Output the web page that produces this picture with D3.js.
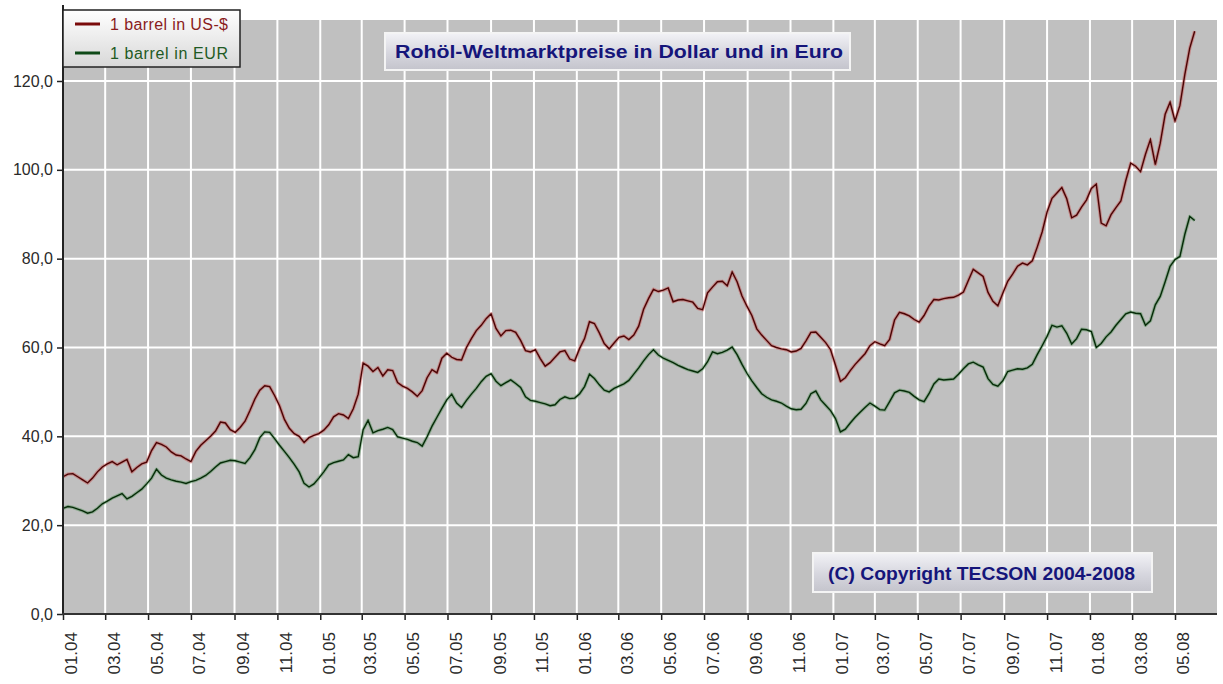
<!DOCTYPE html>
<html>
<head>
<meta charset="utf-8">
<script src="https://cdn.jsdelivr.net/npm/d3@7/dist/d3.min.js"></script>
<style>
  html, body { margin: 0; padding: 0; background: #ffffff; }
  svg { display: block; }
  text { font-family: "Liberation Sans", Arial, sans-serif; }
</style>
</head>
<body>
<svg id="chart" width="1223" height="684"></svg>
<script>
// ---- data (weekly readings, first week starting 01.01.2004) ----
const startDate = "2004-01-01";
const seriesNames = ["1 barrel in US-$", "1 barrel in EUR"];
const usd = [
30.9,31.5,31.6,30.9,30.2,29.5,30.6,32.0,33.1,33.8,
34.3,33.6,34.2,34.8,32.0,33.0,33.8,34.2,36.8,38.6,
38.2,37.6,36.5,35.8,35.6,34.9,34.3,36.6,38.0,39.0,
40.0,41.2,43.2,43.0,41.5,40.9,42.0,43.4,45.8,48.4,
50.4,51.4,51.2,49.2,46.9,43.8,41.8,40.6,40.0,38.6,
39.7,40.2,40.6,41.4,42.6,44.4,45.1,44.8,44.0,46.2,
49.5,56.5,55.8,54.6,55.5,53.6,55.0,54.8,52.1,51.3,
50.8,50.0,49.0,50.3,53.2,55.0,54.3,57.6,58.7,57.8,
57.3,57.2,60.0,62.0,63.8,65.0,66.5,67.6,64.3,62.6,
63.8,63.9,63.4,61.6,59.3,59.0,59.5,57.5,55.8,56.6,
57.8,59.0,59.3,57.4,57.0,59.8,62.0,65.8,65.4,63.3,
60.9,59.7,61.0,62.3,62.6,61.8,62.8,64.8,68.6,71.0,
73.1,72.6,72.9,73.4,70.3,70.7,70.8,70.5,70.2,68.8,
68.5,72.3,73.6,74.8,74.9,73.9,77.0,74.8,71.6,69.3,
67.2,64.2,62.8,61.6,60.4,60.0,59.7,59.5,59.0,59.2,
59.8,61.5,63.4,63.5,62.3,61.1,59.5,56.0,52.4,53.2,
54.8,56.2,57.4,58.6,60.4,61.3,60.8,60.4,61.8,66.2,
67.9,67.6,67.1,66.3,65.7,67.2,69.3,70.8,70.7,71.0,
71.2,71.3,71.8,72.5,75.1,77.6,76.8,76.0,72.4,70.4,
69.4,72.2,74.9,76.5,78.3,79.0,78.6,79.5,82.6,86.0,
90.5,93.6,94.8,96.0,93.5,89.2,89.8,91.6,93.2,95.8,
96.8,88.0,87.4,89.9,91.5,93.0,97.6,101.5,100.8,99.6,
103.5,106.8,101.2,106.0,112.5,115.2,111.0,114.5,121.5,127.4,
131.2
];
const eur = [
23.8,24.2,24.0,23.6,23.2,22.7,23.0,23.8,24.8,25.4,
26.1,26.6,27.1,25.9,26.5,27.3,28.1,29.3,30.6,32.6,
31.3,30.6,30.2,29.9,29.7,29.4,29.8,30.1,30.6,31.2,
32.1,33.1,34.0,34.3,34.6,34.5,34.2,33.9,35.2,37.0,
39.7,41.0,40.9,39.5,38.0,36.6,35.2,33.7,32.0,29.4,
28.6,29.3,30.6,32.0,33.6,34.1,34.4,34.7,35.9,35.2,
35.4,41.5,43.6,40.8,41.3,41.6,42.0,41.5,39.9,39.6,
39.3,38.9,38.6,37.8,39.9,42.3,44.3,46.3,48.2,49.5,
47.5,46.5,48.1,49.5,50.8,52.3,53.5,54.1,52.4,51.4,
52.1,52.7,51.9,51.0,48.9,48.1,47.9,47.6,47.3,46.9,
47.1,48.3,48.9,48.5,48.6,49.6,51.2,54.0,53.0,51.6,
50.4,50.0,50.8,51.3,51.8,52.6,54.0,55.4,57.0,58.4,
59.5,58.3,57.6,57.1,56.6,56.0,55.5,55.0,54.7,54.4,
55.2,56.8,59.0,58.6,58.9,59.4,60.1,58.4,56.2,54.2,
52.5,51.0,49.6,48.8,48.2,47.9,47.5,46.8,46.2,46.0,
46.1,47.4,49.6,50.2,48.2,47.0,45.8,44.0,41.0,41.6,
43.0,44.3,45.4,46.5,47.5,46.8,46.0,45.9,47.8,49.8,
50.4,50.2,49.9,49.0,48.2,47.8,49.6,51.8,52.9,52.7,
52.8,52.9,54.0,55.2,56.3,56.7,56.1,55.6,53.0,51.7,
51.3,52.5,54.6,54.9,55.2,55.1,55.4,56.2,58.4,60.4,
62.5,65.0,64.6,64.9,63.2,60.8,62.0,64.1,64.0,63.6,
60.0,60.9,62.4,63.5,65.0,66.3,67.6,68.0,67.7,67.6,
65.0,66.0,69.6,71.5,74.8,78.3,79.8,80.5,85.5,89.5,
88.6
];
const xTickLabels = [
"01.04","03.04","05.04","07.04","09.04","11.04",
"01.05","03.05","05.05","07.05","09.05","11.05",
"01.06","03.06","05.06","07.06","09.06","11.06",
"01.07","03.07","05.07","07.07","09.07","11.07",
"01.08","03.08","05.08"
];
const yTicks = [0, 20, 40, 60, 80, 100, 120];
const titleText = "Rohöl-Weltmarktpreise in Dollar und in Euro";
const copyrightText = "(C) Copyright TECSON  2004-2008";
const colors = ["#4a0404", "#062a08"];
const halo = ["#c83a3a", "#3f8a47"];
const legendColors = ["#7a0a0a", "#0f4a18"];
const legendTextColors = ["#8a1c1c", "#1f5a24"];

// ---- layout ----
const svg = d3.select("#chart");
const plot = { left: 63, right: 1217, top: 20, bottom: 614 };

const parseTick = s => new Date(2000 + +s.slice(3), +s.slice(0, 2) - 1, 1);
const tickDates = xTickLabels.map(parseTick);
const start = d3.timeParse("%Y-%m-%d")(startDate);
const dates = usd.map((_, i) => d3.timeDay.offset(start, 7 * i));

const x = d3.scaleTime()
  .domain([new Date(2004, 0, 1), new Date(2008, 4, 1)])
  .range([63, 1175]);
const y = d3.scaleLinear().domain([0, 120]).range([614, 81]);

// defs: gradients
const defs = svg.append("defs");
const g1 = defs.append("linearGradient").attr("id", "legGrad").attr("x1", 0).attr("y1", 0).attr("x2", 0).attr("y2", 1);
g1.append("stop").attr("offset", "0%").attr("stop-color", "#ffffff");
g1.append("stop").attr("offset", "100%").attr("stop-color", "#d8d8d8");
const g2 = defs.append("linearGradient").attr("id", "boxGrad").attr("x1", 0).attr("y1", 0).attr("x2", 0).attr("y2", 1);
g2.append("stop").attr("offset", "0%").attr("stop-color", "#f2f2f6");
g2.append("stop").attr("offset", "55%").attr("stop-color", "#d6d6de");
g2.append("stop").attr("offset", "100%").attr("stop-color", "#c4c4cc");

// plot background
svg.append("rect")
  .attr("x", plot.left).attr("y", plot.top)
  .attr("width", plot.right - plot.left).attr("height", plot.bottom - plot.top)
  .attr("fill", "#c0c0c0");

// grid
svg.append("g").selectAll("line").data(tickDates.slice(1)).join("line")
  .attr("x1", d => x(d)).attr("x2", d => x(d))
  .attr("y1", plot.top).attr("y2", plot.bottom)
  .attr("stroke", "#ffffff").attr("stroke-width", 2);
svg.append("g").selectAll("line").data(yTicks.slice(1)).join("line")
  .attr("x1", plot.left).attr("x2", plot.right)
  .attr("y1", d => y(d)).attr("y2", d => y(d))
  .attr("stroke", "#ffffff").attr("stroke-width", 2);

// lines
const seriesList = [usd, eur];
const lineGen = d3.line().x((d, i) => x(dates[i])).y(d => y(d)).curve(d3.curveLinear);
seriesList.forEach((s, k) => {
  svg.append("path").datum(s).attr("d", lineGen)
    .attr("fill", "none").attr("stroke", halo[k]).attr("stroke-width", 3.4)
    .attr("stroke-opacity", 0.4).attr("stroke-linejoin", "round");
  svg.append("path").datum(s).attr("d", lineGen)
    .attr("fill", "none").attr("stroke", colors[k]).attr("stroke-width", 1.4)
    .attr("stroke-linejoin", "miter");
});

// y axis
const yAxis = d3.axisLeft(y).tickValues(yTicks).tickSize(6).tickPadding(4)
  .tickFormat(d => d3.format(".1f")(d).replace(".", ","));
const yg = svg.append("g").attr("transform", `translate(${plot.left},0)`).call(yAxis);
yg.select(".domain").remove();
yg.selectAll(".tick line").attr("stroke", "#222").attr("stroke-width", 1.5);
yg.selectAll(".tick text").attr("font-size", 16).attr("fill", "#2a2a2a")
  .attr("font-family", "'Liberation Sans', Arial, sans-serif");
svg.append("line").attr("x1", plot.left).attr("x2", plot.left)
  .attr("y1", 5).attr("y2", plot.bottom + 1)
  .attr("stroke", "#222").attr("stroke-width", 2);

// x axis
const xAxis = d3.axisBottom(x).tickValues(tickDates).tickSize(6).tickPadding(0)
  .tickFormat((d, i) => xTickLabels[i]);
const xg = svg.append("g").attr("transform", `translate(0,${plot.bottom})`).call(xAxis);
xg.select(".domain").remove();
xg.selectAll(".tick line").attr("stroke", "#222").attr("stroke-width", 1.5);
xg.selectAll(".tick text")
  .attr("font-size", 17).attr("fill", "#2a2a2a")
  .attr("font-family", "'Liberation Sans', Arial, sans-serif")
  .attr("text-anchor", "end")
  .attr("x", -18).attr("y", 0).attr("dy", "0.35em")
  .attr("transform", "translate(8,0) rotate(-90)");
svg.append("line").attr("x1", plot.left - 1).attr("x2", plot.right)
  .attr("y1", plot.bottom).attr("y2", plot.bottom)
  .attr("stroke", "#333").attr("stroke-width", 2);

// legend
const leg = svg.append("g");
leg.append("rect").attr("x", 63).attr("y", 10).attr("width", 177).attr("height", 57)
  .attr("fill", "url(#legGrad)").attr("stroke", "#222").attr("stroke-width", 1.5);
seriesNames.forEach((name, k) => {
  const cy = 24 + k * 29;
  leg.append("line").attr("x1", 75).attr("x2", 100).attr("y1", cy).attr("y2", cy)
    .attr("stroke", legendColors[k]).attr("stroke-width", 3);
  leg.append("text").attr("x", 110).attr("y", cy).attr("dy", "0.35em")
    .attr("font-size", 16).attr("fill", legendTextColors[k])
    .attr("textLength", 118).attr("lengthAdjust", "spacing").text(name);
});

// title box
svg.append("rect").attr("x", 385).attr("y", 33).attr("width", 465).attr("height", 37)
  .attr("fill", "url(#boxGrad)").attr("stroke", "#f4f4f4").attr("stroke-width", 2);
svg.append("text").attr("x", 395).attr("y", 58)
  .attr("font-size", 18).attr("font-weight", "bold").attr("fill", "#15157a")
  .attr("textLength", 448).attr("lengthAdjust", "spacingAndGlyphs")
  .text(titleText);

// copyright box
svg.append("rect").attr("x", 813).attr("y", 553).attr("width", 339).attr("height", 39)
  .attr("fill", "url(#boxGrad)").attr("stroke", "#f4f4f4").attr("stroke-width", 2);
svg.append("text").attr("x", 828).attr("y", 580)
  .attr("font-size", 18).attr("font-weight", "bold").attr("fill", "#15157a")
  .attr("textLength", 307).attr("lengthAdjust", "spacingAndGlyphs")
  .text(copyrightText);
</script>
</body>
</html>
